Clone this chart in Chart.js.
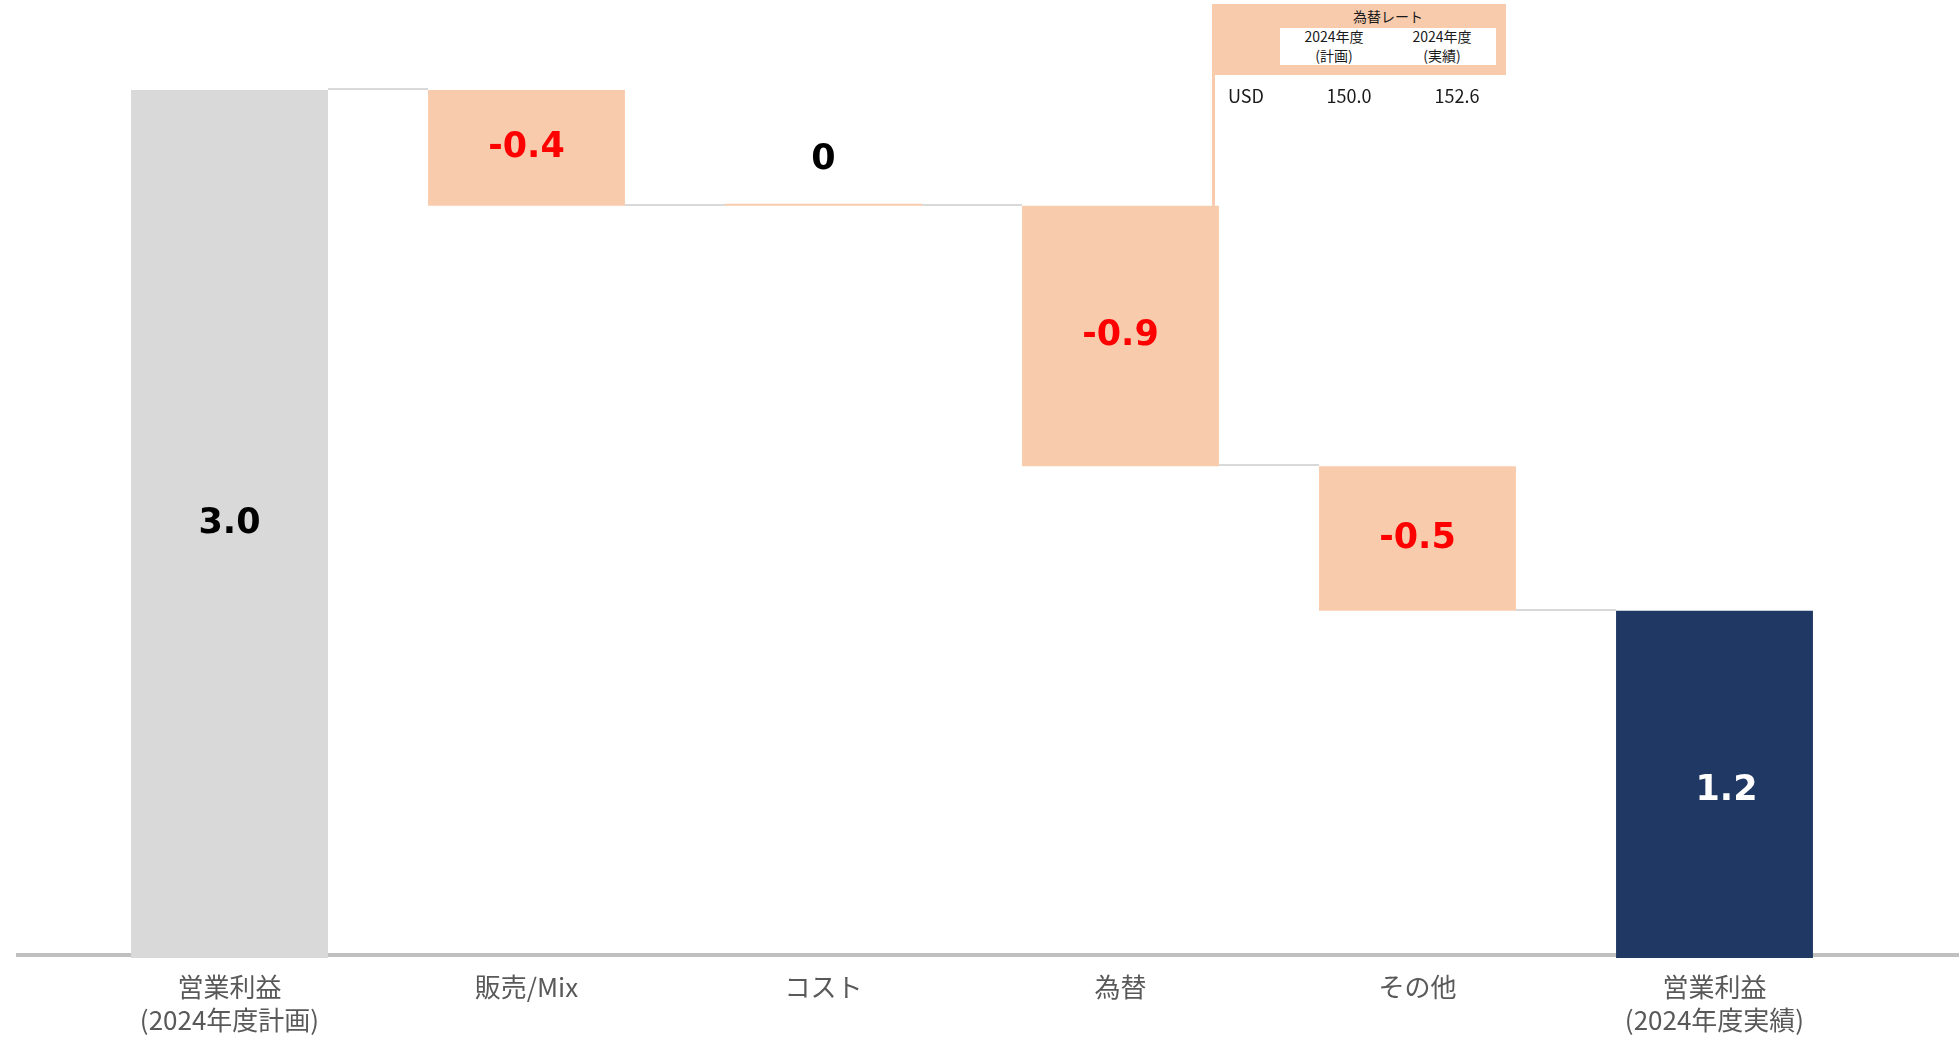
<!DOCTYPE html>
<html lang="ja">
<head>
<meta charset="utf-8">
<script src="https://cdn.jsdelivr.net/npm/chart.js@4.4.1/dist/chart.umd.min.js"></script>
<style>
html, body { margin: 0; padding: 0; background: #fff; }
#wrap { position: relative; width: 1959px; height: 1045px; overflow: hidden; }
#chart { position: absolute; left: 0; top: 0; }
.fx { position: absolute; font-family: "Noto Sans CJK JP", "Noto Sans", sans-serif; color: #1a1a1a; white-space: nowrap; }
#fxLine { left: 1212px; top: 4px; width: 3px; height: 202px; background: #f8cbad; }
#fxHead { left: 1212px; top: 4px; width: 294px; height: 71px; background: #f8cbad; }
#fxBox { left: 1280px; top: 28px; width: 216px; height: 37px; background: #fff; }
.c { transform: translateX(-50%); text-align: center; }
</style>
</head>
<body>
<div id="wrap">
  <canvas id="chart" width="1959" height="1045"></canvas>
  <div class="fx" id="fxLine"></div>
  <div class="fx" id="fxHead"></div>
  <div class="fx" id="fxBox"></div>
  <div class="fx c" style="left:1388px;top:6px;font-size:14px;line-height:20px;">為替レート</div>
  <div class="fx c" style="left:1334px;top:27px;font-size:14px;line-height:19px;">2024年度<br>(計画)</div>
  <div class="fx c" style="left:1442px;top:27px;font-size:14px;line-height:19px;">2024年度<br>(実績)</div>
  <div class="fx" style="left:1228px;top:82px;font-size:18px;line-height:26px;">USD</div>
  <div class="fx c" style="left:1349px;top:82px;font-size:18px;line-height:26px;">150.0</div>
  <div class="fx c" style="left:1457px;top:82px;font-size:18px;line-height:26px;">152.6</div>
</div>
<script>
// カテゴリと値（億円想定）
const categories = [
    ['営業利益', '(2024年度計画)'],
    '販売/Mix',
    'コスト',
    '為替',
    'その他',
    ['営業利益', '(2024年度実績)']
];
const startValue = 3.0;
const deltas = [-0.4, 0, -0.9, -0.5];
const endValue = 1.2;
const labelTexts = ['3.0', '-0.4', '0', '-0.9', '-0.5', '1.2'];

const barColors = ['#d9d9d9', '#f8cbad', '#f8cbad', '#f8cbad', '#f8cbad', '#203864'];
const labelColors = ['#000000', '#ff0000', '#000000', '#ff0000', '#ff0000', '#ffffff'];

// フローティングバー [下端, 上端] を組み立てる
const ranges = [[0, startValue]];
let level = startValue;
deltas.forEach(d => {
    const next = level + d;
    ranges.push([Math.min(level, next), Math.max(level, next)]);
    level = next;
});
ranges.push([0, endValue]);

// 各バー後の水準（コネクタ線用）
const levels = [startValue];
let acc = startValue;
deltas.forEach(d => { acc += d; levels.push(acc); });

// ベースラインとコネクタ線
const waterfallLines = {
    id: 'waterfallLines',
    beforeDatasetsDraw(chart) {
        const ctx = chart.ctx;
        const y0 = chart.scales.y.getPixelForValue(0);
        ctx.save();
        ctx.fillStyle = '#c0c0c0';
        ctx.fillRect(16, y0 - 5, chart.width - 16, 4);
        ctx.restore();
    },
    afterDatasetsDraw(chart) {
        const ctx = chart.ctx;
        const meta = chart.getDatasetMeta(0);
        const y = chart.scales.y;
        ctx.save();
        ctx.strokeStyle = '#d9d9d9';
        ctx.lineWidth = 2;
        for (let i = 0; i < meta.data.length - 1; i++) {
            const a = meta.data[i], b = meta.data[i + 1];
            const py = Math.round(y.getPixelForValue(levels[i])) - 1;
            ctx.beginPath();
            ctx.moveTo(a.x + a.width / 2, py);
            ctx.lineTo(b.x - b.width / 2, py);
            ctx.stroke();
        }
        // データラベル
        ctx.font = 'bold 35px "DejaVu Sans", Verdana, sans-serif';
        ctx.textAlign = 'center';
        ctx.textBaseline = 'middle';
        meta.data.forEach((bar, i) => {
            const [lo, hi] = ranges[i];
            let ly = (y.getPixelForValue(lo) + y.getPixelForValue(hi)) / 2;
            if (hi - lo === 0) ly -= 46;
            let lx = bar.x;
            if (i === meta.data.length - 1) { lx += 12; ly += 7; }
            ctx.fillStyle = labelColors[i];
            ctx.fillText(labelTexts[i], lx, ly);
        });
        ctx.restore();
    }
};

new Chart(document.getElementById('chart'), {
    type: 'bar',
    data: {
        labels: categories,
        datasets: [{
            data: ranges,
            backgroundColor: barColors,
            borderWidth: 0,
            minBarLength: 2,
            barPercentage: 0.663,
            categoryPercentage: 1.0
        }]
    },
    options: {
        responsive: false,
        animation: false,
        devicePixelRatio: 1,
        layout: { padding: { left: 81, right: 96, top: 90, bottom: -4 } },
        scales: {
            x: {
                grid: { display: false, drawTicks: false },
                border: { display: false },
                ticks: {
                    color: '#595959',
                    padding: 13,
                    font: { family: '"Noto Sans CJK JP", sans-serif', size: 26, lineHeight: 1.25 }
                }
            },
            y: {
                display: false,
                min: 0,
                max: 3.0
            }
        },
        plugins: {
            legend: { display: false },
            tooltip: { enabled: false }
        }
    },
    plugins: [waterfallLines]
});
</script>
</body>
</html>
